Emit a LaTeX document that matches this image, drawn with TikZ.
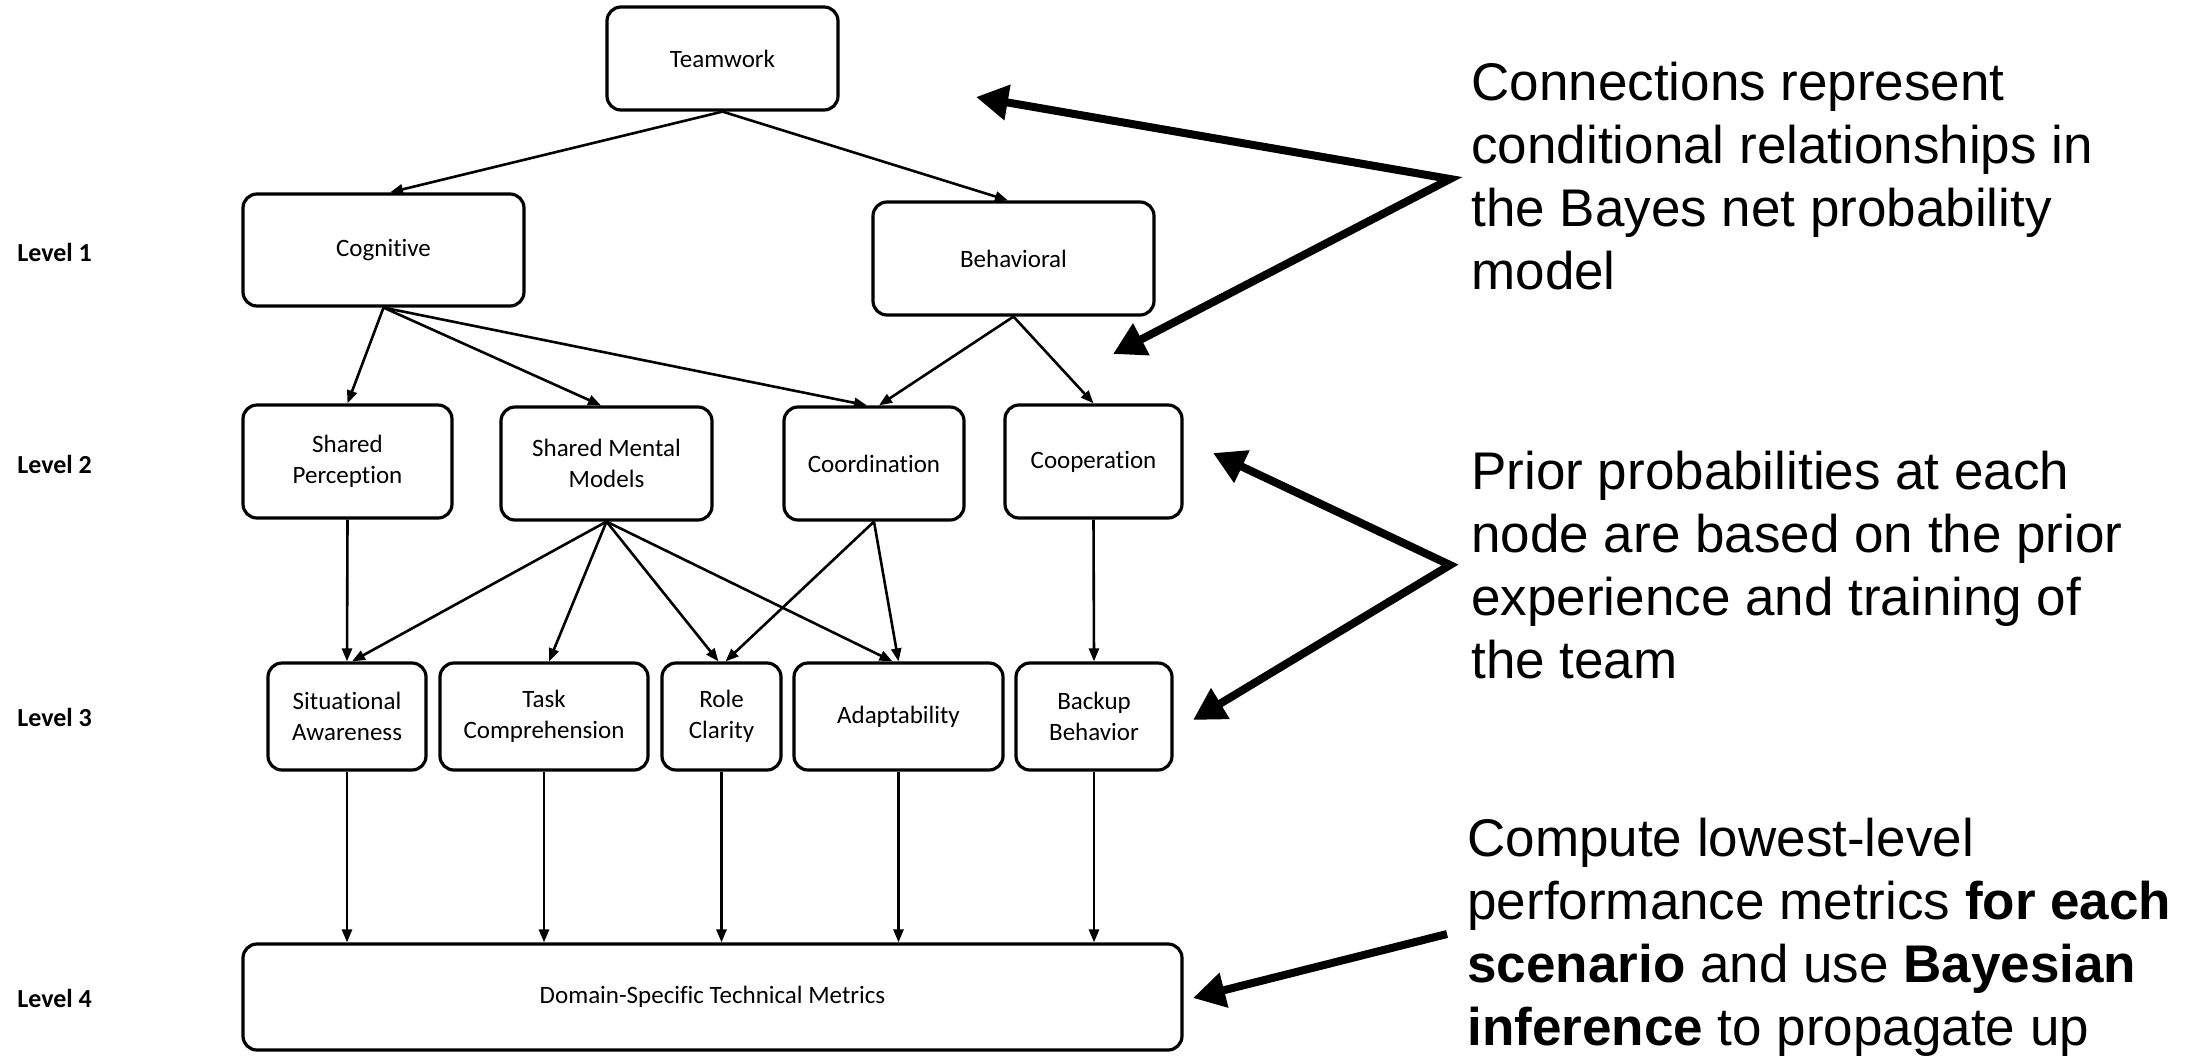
\documentclass[tikz,border=0pt]{standalone}
\usepackage{fontspec}
\setmainfont{Carlito}[Ligatures=NoCommon]
\newfontfamily\notefont{Liberation Sans}
\usetikzlibrary{arrows.meta}

\begin{document}
\begin{tikzpicture}[x=0.5pt,y=-0.5pt,
  box/.style={draw, line width=1.6pt, rounded corners=7pt, inner sep=0pt,
    align=center, font=\fontsize{12.5}{15.3}\selectfont},
  link/.style={line width=1.3pt, -{Triangle[length=6.5pt,width=5pt]}},
  lvl/.style={anchor=west, inner sep=0pt, font=\fontsize{13}{15}\selectfont\bfseries},
  note/.style={anchor=base west, align=left, inner sep=0pt,
    font=\notefont\fontsize{26.5}{31.5}\selectfont},
  callout/.style={line width=4pt, line join=miter},
  bigtip/.tip={Triangle[length=16pt,width=17pt]}
]
\useasboundingbox (0,0) rectangle (2195,1061);

% level labels
\node[lvl] (l1) at (17,252) {Level 1};
\node[lvl] (l2) at (17,464) {Level 2};
\node[lvl] (l3) at (17,717) {Level 3};
\node[lvl] (l4) at (17,998) {Level 4};

% top and level 1
\node[box, minimum width=115.5pt, minimum height=51.5pt] (tw) at (722.5,58.5) {Teamwork};
\node[box, minimum width=140.5pt, minimum height=56pt] (cog) at (383.5,250) {Cognitive};
\node[box, minimum width=140.5pt, minimum height=56.5pt] (beh) at (1013.5,258.5) {Behavioral};

% level 2
\node[box, minimum width=104.5pt, minimum height=56.5pt] (sp) at (347.5,461.5) {Shared\\Perception};
\node[box, minimum width=105.5pt, minimum height=56.5pt] (smm) at (606.5,463.5) {Shared Mental\\Models};
\node[box, minimum width=90pt, minimum height=56.5pt] (coord) at (874,463.5) {Coordination};
\node[box, minimum width=88.5pt, minimum height=56.5pt] (coop) at (1093.5,461.5) {Cooperation};

% level 3
\node[box, minimum width=79pt, minimum height=53.5pt] (sa) at (347,716.5) {Situational\\Awareness};
\node[box, minimum width=104pt, minimum height=53.5pt] (tc) at (544,716.5) {Task\\Comprehension};
\node[box, minimum width=59.5pt, minimum height=53.5pt] (rc) at (721.5,716.5) {Role\\Clarity};
\node[box, minimum width=104.5pt, minimum height=53.5pt] (adapt) at (898.5,716.5) {Adaptability};
\node[box, minimum width=78pt, minimum height=53.5pt] (bb) at (1094,716.5) {Backup\\Behavior};

% level 4
\node[box, minimum width=469.5pt, minimum height=53pt] (dom) at (712.5,997) {Domain-Specific Technical Metrics};

% network connections
\draw[link] (tw.south) -- ([xshift=3.25pt]cog.north);
\draw[link] (tw.south) -- ([xshift=-2.75pt]beh.north);
\draw[link] (cog.south) -- (sp.north);
\draw[link] (cog.south) -- ([xshift=-2.75pt]smm.north);
\draw[link] (cog.south) -- ([xshift=-3.5pt]coord.north);
\draw[link] (beh.south) -- ([xshift=2.5pt]coord.north);
\draw[link] (beh.south) -- (coop.north);
\draw[link] (sp.south) -- (sa.north);
\draw[link] (smm.south) -- ([xshift=2.5pt]sa.north);
\draw[link] (smm.south) -- ([xshift=2.5pt]tc.north);
\draw[link] (smm.south) -- ([xshift=-1.5pt]rc.north);
\draw[link] (smm.south) -- ([xshift=-3pt]adapt.north);
\draw[link] (coord.south) -- ([xshift=2pt]rc.north);
\draw[link] (coord.south) -- (adapt.north);
\draw[link] (coop.south) -- (bb.north);
\foreach \n in {sa,tc,rc,adapt,bb}
  \draw[link] (\n.south) -- (\n.south |- dom.north);

% explanatory notes (anchored at the baseline of their last line)
\node[note] (n1) at (1471,289) {Connections represent\\conditional relationships in\\the Bayes net probability\\model};
\node[note] (n2) at (1471,678) {Prior probabilities at each\\node are based on the prior\\experience and training of\\the team};
\node[note] (n3) at (1467,1045) {Compute lowest-level\\performance metrics \textbf{for each}\\\textbf{scenario} and use \textbf{Bayesian}\\\textbf{inference} to propagate up};

% callout arrows
\coordinate (j1) at (1450,179);
\coordinate (t1a) at (976,97);
\coordinate (t1b) at (1113,354);
\coordinate (j2) at (1450,565);
\coordinate (t2a) at (1213,453);
\coordinate (t2b) at (1193,720);
\coordinate (s3) at (1447,934);
\coordinate (t3) at (1193,998);
\draw[callout, bigtip-bigtip] (t1a) -- (j1) -- (t1b);
\draw[callout, bigtip-bigtip] (t2a) -- (j2) -- (t2b);
\draw[callout, -bigtip] (s3) -- (t3);
\end{tikzpicture}
\end{document}
